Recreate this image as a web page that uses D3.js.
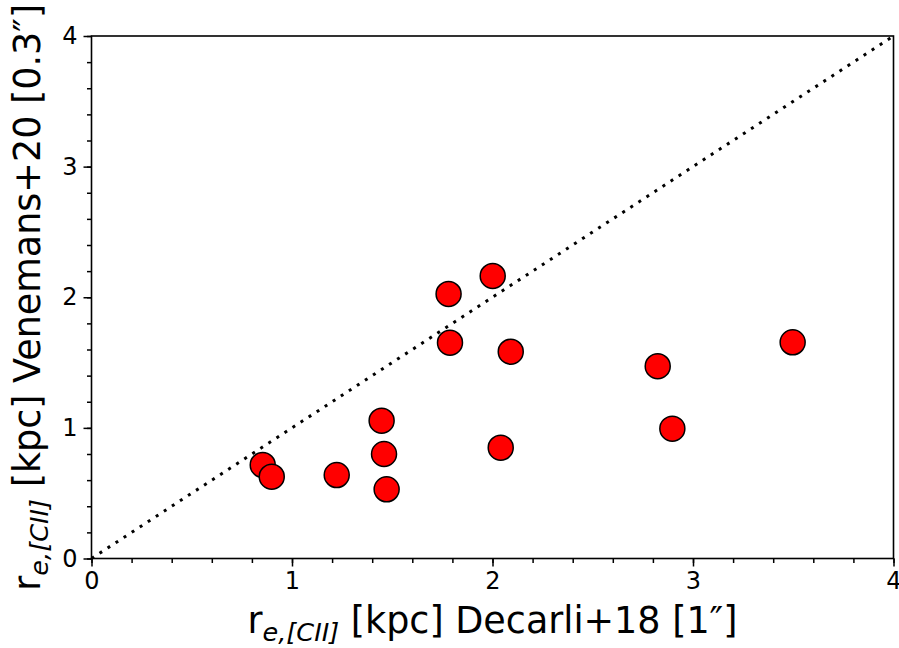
<!DOCTYPE html>
<html>
<head>
<meta charset="utf-8">
<script src="https://cdn.jsdelivr.net/npm/d3@7"></script>
<style>
  body { margin: 0; background: #fff; }
  text { font-family: "DejaVu Sans", sans-serif; fill: #000; }
</style>
</head>
<body>
<div id="chart"></div>
<script>

// values
var decarli = [0.854, 0.899, 1.223, 1.447, 1.459, 1.472, 1.781, 2.001, 1.788, 2.091, 2.041, 2.824, 2.897, 3.497];
var venemans = [0.716, 0.626, 0.639, 1.055, 0.800, 0.530, 2.025, 2.163, 1.652, 1.583, 0.848, 1.472, 0.994, 1.655];
var majorTicks = [0, 1, 2, 3, 4];
var minorTicks = d3.range(0, 4.001, 0.2);
var oneToOne = [0, 4];

var width = 899, height = 648;
var margin = {left: 91.5, right: 5.5, top: 36, bottom: 89.5};

var svg = d3.select("#chart")
    .append("svg")
    .attr("width", width)
    .attr("height", height);

var x = d3.scaleLinear().domain([0, 4]).range([margin.left, width - margin.right]);
var y = d3.scaleLinear().domain([0, 4]).range([height - margin.bottom, margin.top]);

// 1:1 line
svg.append("line")
    .attr("x1", x(oneToOne[0]))
    .attr("y1", y(oneToOne[0]))
    .attr("x2", x(oneToOne[1]))
    .attr("y2", y(oneToOne[1]))
    .style("stroke", "#000")
    .style("stroke-width", 3)
    .style("stroke-dasharray", "3,6.6");

// points
svg.append("g")
    .selectAll("circle")
    .data(decarli)
    .enter()
    .append("circle")
    .attr("cx", function (d) { return x(d); })
    .attr("cy", function (d, i) { return y(venemans[i]); })
    .attr("r", 12.5)
    .style("fill", "#ff0000")
    .style("stroke", "#000")
    .style("stroke-width", 1.5);

// frame
svg.append("rect")
    .attr("x", x(0))
    .attr("y", y(4))
    .attr("width", x(4) - x(0))
    .attr("height", y(0) - y(4))
    .style("fill", "none")
    .style("stroke", "#000")
    .style("stroke-width", 1.6);

// axes
var xAxis = svg.append("g")
    .attr("transform", "translate(0," + y(0) + ")")
    .call(d3.axisBottom(x).tickValues(majorTicks).tickSize(8).tickPadding(5).tickFormat(d3.format("d")));
var xMinor = svg.append("g")
    .attr("transform", "translate(0," + y(0) + ")")
    .call(d3.axisBottom(x).tickValues(minorTicks).tickSize(4.5).tickFormat(""));
var yAxis = svg.append("g")
    .attr("transform", "translate(" + x(0) + ",0)")
    .call(d3.axisLeft(y).tickValues(majorTicks).tickSize(8).tickPadding(6).tickFormat(d3.format("d")));
var yMinor = svg.append("g")
    .attr("transform", "translate(" + x(0) + ",0)")
    .call(d3.axisLeft(y).tickValues(minorTicks).tickSize(4.5).tickFormat(""));

[xAxis, xMinor, yAxis, yMinor].forEach(function (g) {
    g.attr("font-size", null).attr("font-family", null);
    g.select(".domain").remove();
    g.selectAll("line").style("stroke", "#000").style("stroke-width", 1.5);
    g.selectAll("text").style("font-family", "DejaVu Sans").style("font-size", "24px").style("fill", "#000");
});

// axis titles
function addTitle(el, tail) {
    el.append("tspan").text("r");
    el.append("tspan")
        .attr("baseline-shift", "-30%")
        .style("font-size", "70%")
        .style("font-style", "italic")
        .text("e,[CII]");
    el.append("tspan").text(" " + tail);
}

var xTitle = svg.append("text")
    .attr("x", (x(0) + x(4)) / 2)
    .attr("y", 633)
    .style("font-size", "36.5px")
    .style("text-anchor", "middle");
addTitle(xTitle, "[kpc] Decarli+18 [1\u2033]");

var yTitle = svg.append("text")
    .attr("transform", "translate(40," + (y(0) + y(4)) / 2 + ") rotate(-90)")
    .style("font-size", "36.5px")
    .style("text-anchor", "middle");
addTitle(yTitle, "[kpc] Venemans+20 [0.3\u2033]");

</script>
</body>
</html>
